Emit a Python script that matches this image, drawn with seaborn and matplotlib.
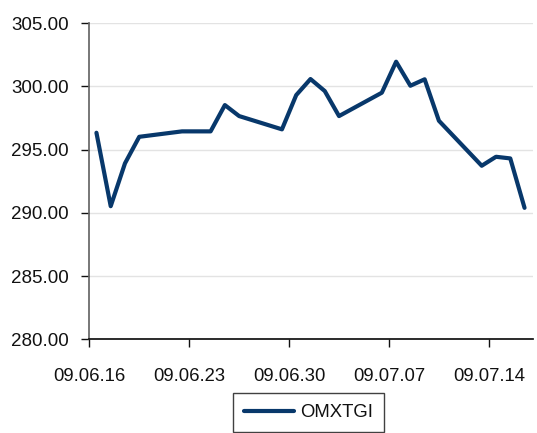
import matplotlib
matplotlib.use("Agg")
import matplotlib.pyplot as plt
import matplotlib.dates as mdates
from matplotlib.ticker import FormatStrFormatter
import pandas as pd
import seaborn as sns

# Päevased sulgemisväärtused (OMX Tallinn GI)
dates = [
    "2009-06-16", "2009-06-17", "2009-06-18", "2009-06-19",
    "2009-06-22", "2009-06-23", "2009-06-24", "2009-06-25", "2009-06-26",
    "2009-06-29", "2009-06-30", "2009-07-01", "2009-07-02", "2009-07-03",
    "2009-07-06", "2009-07-07", "2009-07-08", "2009-07-09", "2009-07-10",
    "2009-07-13", "2009-07-14", "2009-07-15", "2009-07-16",
]
omxtgi = [
    296.34, 290.53, 293.92, 296.02,
    296.45, 296.45, 296.45, 298.53, 297.66,
    296.61, 299.32, 300.59, 299.64, 297.66,
    299.51, 301.96, 300.06, 300.57, 297.29,
    293.73, 294.44, 294.31, 290.40,
]
tick_dates = ["2009-06-16", "2009-06-23", "2009-06-30", "2009-07-07", "2009-07-14"]
y_ticks = [280, 285, 290, 295, 300, 305]

sns.set_theme(style="white")
plt.rcParams["font.family"] = ["Liberation Sans", "DejaVu Sans"]

df = pd.DataFrame({
    # punktid päeva keskel, nagu Exceli kuupäevateljel
    "date": pd.to_datetime(dates) + pd.Timedelta(hours=12),
    "OMXTGI": omxtgi,
})

fig = plt.figure(figsize=(5.37, 4.33), dpi=100)
ax = fig.add_axes([0.1663, 0.2164, 0.826, 0.7298])

sns.lineplot(data=df, x="date", y="OMXTGI", ax=ax, color="#08386b",
             linewidth=3.0, label="OMXTGI")

ax.set_xlim(pd.Timestamp("2009-06-16"), pd.Timestamp("2009-07-17 02:00"))
ax.set_ylim(280, 305)
ax.set_yticks(y_ticks)
ax.yaxis.set_major_formatter(FormatStrFormatter("%.2f"))
ax.set_xticks(pd.to_datetime(tick_dates))
ax.xaxis.set_major_formatter(mdates.DateFormatter("%y.%m.%d"))
ax.grid(axis="y", color="#e3e3e3", linewidth=1)
ax.set_axisbelow(True)

for side in ["top", "right"]:
    ax.spines[side].set_visible(False)
ax.spines["left"].set_color("#666666")
ax.spines["bottom"].set_color("#111111")
ax.tick_params(axis="y", direction="out", length=6, width=1, color="#111111",
               labelsize=13.5, left=True, pad=9, labelcolor="#111111")
ax.tick_params(axis="x", direction="out", length=5.5, width=1, color="#111111",
               labelsize=13.3, bottom=True, pad=15, labelcolor="#111111")
ax.set_xlabel("")
ax.set_ylabel("")

leg = ax.legend(loc="upper center", bbox_to_anchor=(0.574, 0.0924),
                bbox_transform=fig.transFigure,
                frameon=True, fancybox=False, fontsize=13.3, handlelength=2.7,
                borderpad=0.6, handletextpad=0.35, borderaxespad=0)
leg.get_frame().set_edgecolor("#111111")
leg.get_frame().set_linewidth(1)
for t in leg.get_texts():
    t.set_color("#111111")

fig.savefig("out.png", dpi=100)
